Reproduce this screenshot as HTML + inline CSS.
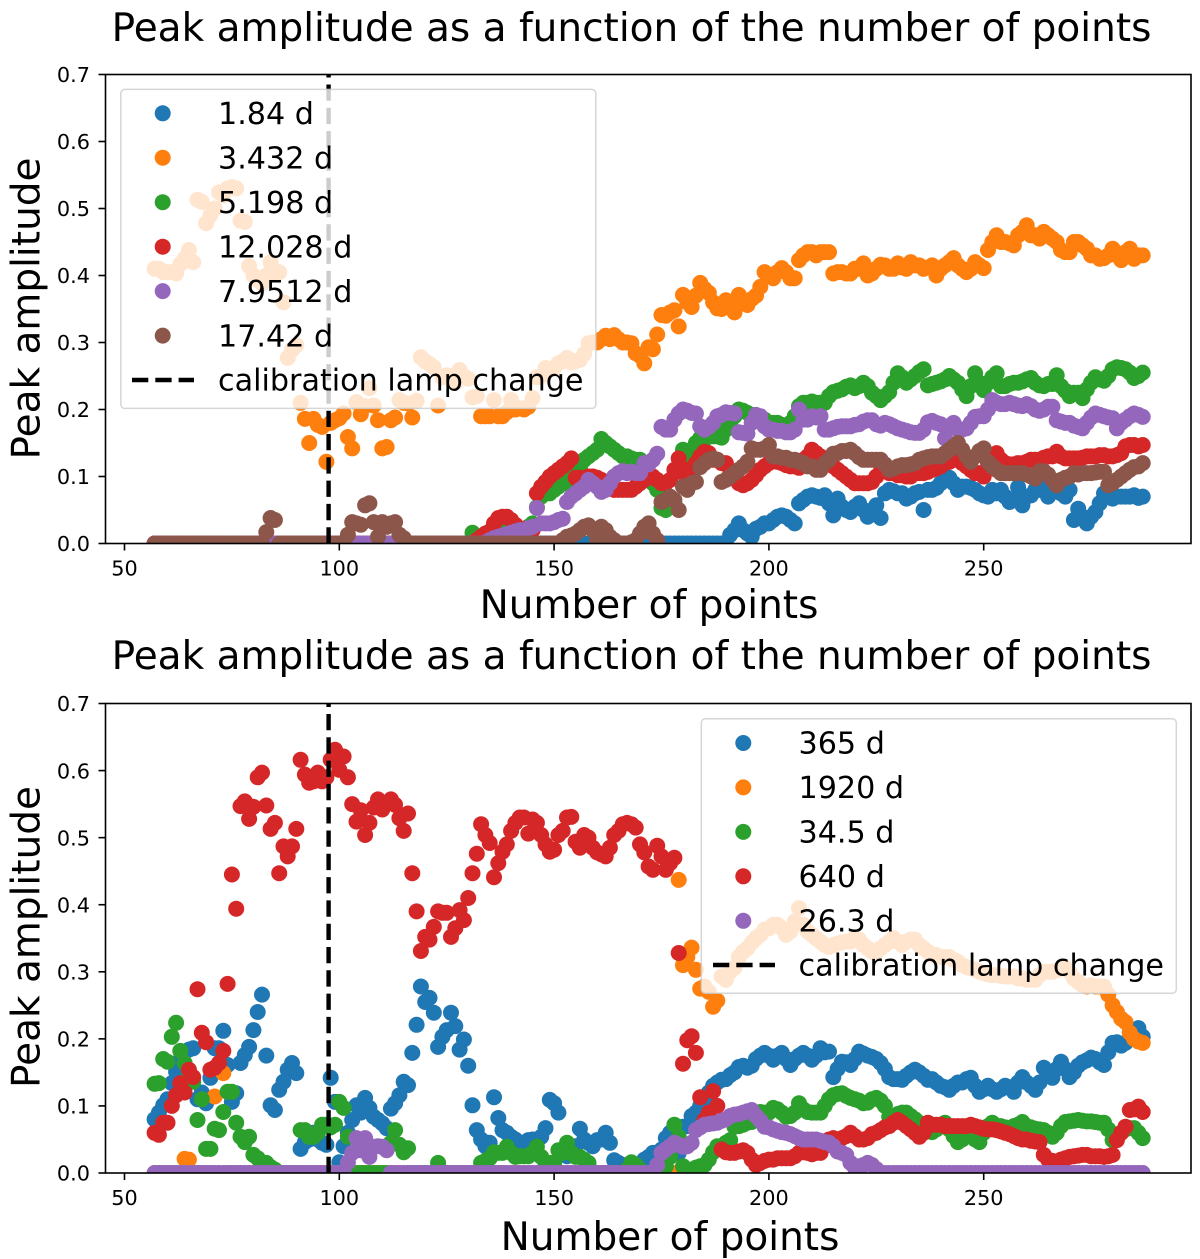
<!DOCTYPE html>
<html lang="en">
<head>
<meta charset="utf-8">
<title>Peak amplitude as a function of the number of points</title>
<style>
html,body{margin:0;padding:0;background:#fff;}
svg{display:block;font-family:"DejaVu Sans","Liberation Sans",sans-serif;fill:#000;}
</style>
</head>
<body>
<svg id="figure" xmlns="http://www.w3.org/2000/svg" width="1200" height="1259" viewBox="0 0 1200 1259">
  <defs>
    <clipPath id="clip-top"><rect x="105.5" y="74.5" width="1085.5" height="469"/></clipPath>
    <clipPath id="clip-bottom"><rect x="105.5" y="703.5" width="1085.5" height="469.5"/></clipPath>
  </defs>

  <g id="chart-top">
    <text x="631.5" y="41" font-size="39" text-anchor="middle">Peak amplitude as a function of the number of points</text>
    <g id="marks-top" clip-path="url(#clip-top)"></g>
    <line x1="328.6" y1="543.5" x2="328.6" y2="74.5" stroke="#000" stroke-width="4.4" stroke-dasharray="16.3 7"/>
    <g>
      <rect x="120.8" y="89.4" width="475" height="319" rx="4" fill="#fff" fill-opacity="0.8" stroke="#ccc" stroke-opacity="0.8" stroke-width="1.5"/>
      <g font-size="30.2">
        <g><circle cx="162.7" cy="113.3" r="8" fill="#1f77b4"/><text x="218" y="124">1.84 d</text></g>
        <g><circle cx="162.7" cy="157.7" r="8" fill="#ff7f0e"/><text x="218" y="168.4">3.432 d</text></g>
        <g><circle cx="162.7" cy="202.2" r="8" fill="#2ca02c"/><text x="218" y="212.9">5.198 d</text></g>
        <g><circle cx="162.7" cy="246.7" r="8" fill="#d62728"/><text x="218" y="257.4">12.028 d</text></g>
        <g><circle cx="162.7" cy="291.1" r="8" fill="#9467bd"/><text x="218" y="301.8">7.9512 d</text></g>
        <g><circle cx="162.7" cy="335.6" r="8" fill="#8c564b"/><text x="218" y="346.3">17.42 d</text></g>
        <g><line x1="132" y1="380" x2="194" y2="380" stroke="#000" stroke-width="4.4" stroke-dasharray="16.3 7"/><text x="218" y="390.7">calibration lamp change</text></g>
      </g>
    </g>
    <g id="ticks-top"></g>
    <rect x="105.5" y="74.5" width="1085.5" height="469" fill="none" stroke="#000" stroke-width="1.6"/>
    <text x="649" y="618" font-size="39" text-anchor="middle">Number of points</text>
    <text transform="translate(39.5 308.5) rotate(-90)" font-size="39" text-anchor="middle">Peak amplitude</text>
  </g>

  <g id="chart-bottom">
    <text x="631.5" y="669" font-size="39" text-anchor="middle">Peak amplitude as a function of the number of points</text>
    <g id="marks-bottom" clip-path="url(#clip-bottom)"></g>
    <line x1="328.6" y1="1173" x2="328.6" y2="703.5" stroke="#000" stroke-width="4.4" stroke-dasharray="16.3 7"/>
    <g>
      <rect x="701.3" y="718.8" width="475" height="274.5" rx="4" fill="#fff" fill-opacity="0.8" stroke="#ccc" stroke-opacity="0.8" stroke-width="1.5"/>
      <g font-size="30.2">
        <g><circle cx="743.3" cy="743" r="8" fill="#1f77b4"/><text x="798.5" y="753.7">365 d</text></g>
        <g><circle cx="743.3" cy="787.4" r="8" fill="#ff7f0e"/><text x="798.5" y="798.1">1920 d</text></g>
        <g><circle cx="743.3" cy="831.9" r="8" fill="#2ca02c"/><text x="798.5" y="842.6">34.5 d</text></g>
        <g><circle cx="743.3" cy="876.3" r="8" fill="#d62728"/><text x="798.5" y="887">640 d</text></g>
        <g><circle cx="743.3" cy="920.8" r="8" fill="#9467bd"/><text x="798.5" y="931.5">26.3 d</text></g>
        <g><line x1="713" y1="965" x2="775" y2="965" stroke="#000" stroke-width="4.4" stroke-dasharray="16.3 7"/><text x="798.5" y="975.7">calibration lamp change</text></g>
      </g>
    </g>
    <g id="ticks-bottom"></g>
    <rect x="105.5" y="703.5" width="1085.5" height="469.5" fill="none" stroke="#000" stroke-width="1.6"/>
    <text x="670" y="1250" font-size="39" text-anchor="middle">Number of points</text>
    <text transform="translate(39.5 937) rotate(-90)" font-size="39" text-anchor="middle">Peak amplitude</text>
  </g>
</svg>

<script>
// Every series is read per point count; index 0 = 57 points, last index = 287 points.
const firstPointCount = 57;
const xTickValues = [50,100,150,200,250];
const yTickValues = [0,0.1,0.2,0.3,0.4,0.5,0.6,0.7];

// ---------- top chart ----------
const top_1_84 = [0,0,0,
0,0,0,0,0,0,0,0,0,0,
0,0,0,0,0,0,0,0,0,0,
0,0,0,0,0,0,0,0,0,0,
0,0,0,0,0,0,0,0,0,0,
0,0,0,0,0,0,0,0,0,0,
0,0,0,0,0,0,0,0,0,0,
0,0,0,0,0,0,0,0,0,0,
0,0,0,0,0,0,0,0,0,0,
0,0,0,0,0,0,0,0,0,0,
0,0,0,0,0,0,0,0,0,0,
0,0,0,0,0,0,0,0,0,0,
0,0,0,0,0,0,0,0,0,0,
0,0,0,0,0,0,0,0,0,0,
0,.013,.02,.03,.02,.015,.01,.022,.025,.03,
.03,.035,.04,.042,.04,.035,.03,.06,.065,.07,
.072,.07,.068,.072,.06,.042,.067,.055,.05,.047,
.055,.06,.05,.04,.05,.057,.038,.075,.08,.078,
.075,.075,.067,.07,.075,.077,.05,.08,.08,.083,
.09,.095,.098,.09,.08,.085,.085,.083,.08,.075,
.072,.07,.08,.075,.08,.07,.062,.065,.084,.057,
.07,.072,.08,.08,.087,.07,.08,.083,.075,.07,
.08,.035,.052,.04,.03,.04,.047,.06,.075,.072,
.067,.07,.07,.07,.07,.072,.068,.07];

const top_3_432 = [.41,.41,.405,
.405,.405,.403,.417,.425,.438,.42,.513,.51,.478,
.49,.50,.524,.52,.53,.532,.53,.482,.48,.414,
.40,.393,.388,.40,.42,.403,.405,.36,.277,.289,
.296,.21,.186,.15,.186,.177,.174,.122,.18,.184,
.187,.194,.159,.142,.211,.193,.205,.232,.206,.184,
.142,.144,.184,.188,.214,.21,.209,.188,.213,.278,
.272,.268,.263,.206,.248,.251,.25,.24,.259,.25,
.246,.218,.22,.19,.19,.19,.214,.19,.19,.196,
.214,.20,.202,.20,.204,.217,.248,.25,.262,.26,
.262,.269,.272,.277,.27,.272,.274,.283,.299,.30,
.30,.305,.31,.305,.311,.305,.30,.30,.299,.284,
.28,.269,.293,.29,.312,.341,.34,.345,.348,.324,
.371,.36,.353,.37,.389,.38,.374,.36,.351,.35,
.363,.36,.345,.371,.36,.356,.365,.37,.383,.405,
.40,.396,.405,.411,.405,.396,.396,.423,.43,.435,
.435,.43,.435,.435,.435,.403,.405,.405,.403,.403,
.41,.41,.418,.40,.403,.41,.416,.415,.41,.41,
.418,.412,.41,.42,.415,.415,.41,.412,.415,.40,
.41,.415,.42,.426,.415,.41,.405,.41,.42,.415,
.411,.438,.45,.46,.45,.45,.448,.445,.46,.465,
.475,.46,.46,.455,.465,.46,.455,.45,.438,.435,
.435,.45,.45,.445,.44,.43,.43,.425,.426,.43,
.44,.43,.423,.435,.44,.425,.43,.43];

const top_5_198 = [0,0,0,
0,0,0,0,0,0,0,0,0,0,
0,0,0,0,0,0,0,0,0,0,
0,0,0,0,0,0,0,0,0,0,
0,0,0,0,0,0,0,0,0,0,
0,0,0,0,0,0,0,0,0,0,
0,0,0,0,0,0,0,0,0,0,
0,0,0,0,0,0,0,0,0,0,
0,.016,0,0,0,.01,.01,.015,.02,.018,
.015,.01,.02,.02,.025,.03,.054,.07,.075,.075,
.08,.085,.09,.09,.10,.11,.114,.125,.13,.135,
.14,.156,.15,.145,.14,.135,.13,.13,.127,.125,
.125,.12,.10,.09,.08,.053,.05,.055,.06,.115,
.14,.13,.14,.15,.157,.155,.16,.16,.16,.158,
.17,.18,.19,.2,.198,.195,.192,.19,.187,.185,
.18,.18,.18,.177,.175,.18,.19,.205,.21,.21,
.212,.21,.21,.21,.22,.226,.228,.23,.234,.236,
.232,.235,.24,.235,.225,.22,.214,.22,.226,.24,
.254,.248,.24,.245,.25,.256,.26,.236,.238,.24,
.242,.245,.25,.245,.24,.23,.22,.235,.254,.24,
.229,.24,.248,.254,.235,.235,.238,.24,.24,.242,
.245,.247,.24,.236,.235,.238,.238,.251,.235,.228,
.22,.225,.225,.217,.23,.24,.248,.245,.243,.25,
.26,.263,.262,.26,.255,.247,.25,.255];

const top_12_028 = [0,0,0,
0,0,0,0,0,0,0,0,0,0,
0,0,0,0,0,0,0,0,0,0,
0,0,0,0,0,0,0,0,0,0,
0,0,0,0,0,0,0,0,0,0,
0,0,0,0,0,0,0,0,0,0,
0,0,0,0,0,0,0,0,0,0,
0,0,0,0,0,0,0,0,0,0,
0,0,.005,.01,.015,.018,.03,.038,.04,.04,
.035,.028,.02,.022,.02,.02,.075,.085,.092,.10,
.105,.11,.115,.12,.127,.098,.098,.097,.10,.10,
.098,.095,.09,.085,.08,.08,.08,.08,.08,.085,
.09,.095,.105,.10,.095,.09,.09,.095,.11,.127,
.105,.11,.11,.12,.13,.137,.135,.125,.125,.12,
.12,.105,.10,.09,.087,.09,.095,.102,.11,.115,
.12,.125,.122,.12,.117,.115,.115,.113,.125,.13,
.14,.135,.13,.125,.12,.115,.11,.105,.10,.095,
.09,.09,.09,.09,.092,.10,.107,.11,.105,.105,
.102,.102,.10,.10,.105,.105,.105,.107,.11,.112,
.115,.12,.122,.125,.125,.12,.115,.11,.105,.105,
.10,.12,.125,.135,.125,.12,.118,.118,.12,.12,
.122,.125,.125,.125,.128,.13,.13,.137,.13,.127,
.127,.127,.127,.128,.13,.13,.13,.132,.132,.13,
.13,.132,.135,.145,.147,.147,.145,.147];

const top_7_9512 = [0,0,0,
0,0,0,0,0,0,0,0,0,0,
0,0,0,0,0,0,0,0,0,0,
0,0,0,0,0,0,0,0,0,0,
0,0,0,0,0,0,0,0,0,0,
0,0,0,0,0,0,0,0,0,0,
0,0,0,0,0,0,0,0,0,0,
0,0,0,0,0,0,0,0,0,0,
0,0,0,0,.002,.005,.008,.01,.012,.014,
.016,.018,.02,.02,.023,.025,.053,.03,.03,.03,
.032,.035,.037,.062,.07,.075,.08,.085,.095,.09,
.085,.077,.08,.09,.1,.105,.108,.105,.107,.105,
.105,.12,.118,.125,.134,.174,.17,.17,.185,.194,
.20,.198,.195,.194,.175,.17,.174,.18,.19,.192,
.196,.195,.194,.166,.165,.164,.18,.192,.19,.175,
.17,.17,.168,.168,.166,.166,.17,.2,.185,.185,
.19,.188,.19,.17,.17,.172,.174,.175,.175,.175,
.177,.178,.182,.184,.184,.178,.176,.18,.178,.175,
.172,.17,.168,.166,.165,.165,.17,.181,.183,.18,
.178,.157,.175,.18,.17,.17,.172,.18,.189,.19,
.19,.2,.214,.21,.208,.208,.21,.208,.206,.205,
.208,.205,.20,.198,.2,.204,.204,.184,.182,.18,
.18,.176,.174,.172,.18,.188,.194,.192,.19,.188,
.187,.172,.18,.185,.19,.194,.192,.189];

const top_17_42 = [0,0,0,
0,0,0,0,0,0,0,0,0,0,
0,0,0,0,0,0,0,0,0,0,
0,0,0,.017,.038,.035,0,0,0,0,
0,0,0,0,0,0,0,0,0,0,
0,0,.013,.032,.03,.028,.057,.06,.032,.01,
.032,.025,.03,.032,.013,.008,0,0,0,0,
0,0,0,0,0,0,0,0,0,0,
0,0,0,0,0,0,0,0,0,0,
0,0,0,0,0,0,0,0,0,0,
0,0,.005,.01,.012,.015,.02,.025,.027,.02,
.005,.025,.02,.01,.005,0,0,0,.002,.005,
.015,.025,.03,.015,.005,.062,.065,.07,.065,.05,
.085,.08,.09,.092,.114,.12,.125,.127,.125,.092,
.095,.10,.105,.11,.115,.122,.142,.14,.14,.142,
.147,.13,.13,.128,.128,.125,.125,.122,.12,.115,
.115,.11,.11,.12,.125,.134,.135,.138,.138,.14,
.135,.129,.125,.125,.125,.125,.125,.118,.11,.112,
.115,.117,.117,.118,.12,.125,.127,.129,.13,.13,
.13,.135,.14,.145,.15,.14,.13,.122,.13,.138,
.142,.122,.115,.11,.105,.105,.105,.105,.105,.105,
.103,.1,.097,.108,.108,.103,.095,.087,.095,.098,
.1,.105,.103,.105,.105,.105,.106,.107,.107,.087,
.09,.095,.10,.105,.11,.114,.115,.12];

// ---------- bottom chart ----------
const bottom_365 = [.08,.09,.101,
.11,.134,.151,.169,.18,.184,.186,.11,.12,.104,
.142,.186,.186,.212,.161,.106,.119,.164,.176,.188,
.213,.24,.266,.175,.101,.094,.124,.136,.154,.164,
.149,.036,.046,.05,.06,.05,.045,.042,.142,.106,
.016,.04,.06,.079,.101,.09,.112,.097,.084,.079,
.074,.067,.096,.104,.116,.136,.131,.179,.221,.278,
.255,.261,.239,.188,.203,.213,.239,.219,.184,.199,
.16,.101,.064,.05,.04,.045,.113,.082,.064,.06,
.054,.05,.045,.04,.049,.05,.05,.054,.067,.109,
.104,.09,.03,.025,.03,.04,.066,.05,.045,.04,
.049,.05,.06,.045,.019,.015,.012,.01,.01,.005,
.01,.02,.024,.03,.03,.035,.052,.06,.05,.03,
.069,.07,.085,.09,.10,.11,.12,.13,.135,.139,
.14,.146,.15,.158,.16,.157,.16,.17,.175,.179,
.175,.169,.175,.179,.17,.161,.17,.175,.179,.175,
.169,.175,.186,.18,.181,.143,.155,.166,.165,.161,
.17,.181,.178,.175,.173,.17,.164,.155,.143,.14,
.14,.139,.145,.15,.154,.15,.145,.139,.14,.135,
.13,.128,.124,.13,.135,.135,.14,.142,.13,.121,
.125,.13,.125,.121,.125,.13,.128,.121,.135,.143,
.135,.13,.124,.135,.157,.15,.142,.155,.166,.155,
.143,.15,.16,.165,.168,.172,.17,.165,.161,.18,
.194,.195,.19,.194,.21,.212,.216,.203];

const bottom_1920 = [0,0,0,
0,0,0,0,.021,.02,0,0,0,0,
0,.114,0,.149,0,0,0,0,0,0,
0,0,0,0,0,0,0,0,0,0,
0,0,0,0,0,0,0,0,0,0,
0,0,0,0,0,0,0,0,0,0,
0,0,0,0,0,0,0,0,0,0,
0,0,0,0,0,0,0,0,0,0,
0,0,0,0,0,0,0,0,0,0,
0,0,0,0,0,0,0,0,0,0,
0,0,0,0,0,0,0,0,0,0,
0,0,0,0,0,0,0,0,0,0,
0,0,0,0,0,0,0,0,0,.437,
.31,.322,.336,.303,.275,.278,.27,.248,.257,.293,
.288,.3,.306,.322,.33,.335,.343,.35,.355,.363,
.365,.37,.37,.365,.355,.36,.375,.395,.37,.36,
.355,.35,.345,.34,.337,.34,.342,.344,.345,.345,
.35,.348,.34,.335,.33,.33,.335,.34,.345,.35,
.345,.34,.345,.348,.348,.34,.335,.33,.325,.325,
.322,.322,.322,.318,.315,.31,.307,.305,.303,.30,
.298,.296,.295,.295,.294,.293,.293,.293,.29,.29,
.288,.288,.288,.295,.30,.3,.3,.302,.305,.306,
.30,.29,.285,.28,.278,.28,.278,.278,.278,.266,
.25,.24,.23,.225,.209,.2,.196,.194];

const bottom_34_5 = [.133,.134,.17,
.166,.203,.224,.182,.164,.15,.136,.079,.11,.036,
.036,.066,.064,.091,.121,.121,.075,.054,.046,.054,
.027,.022,.016,.015,.009,.005,0,0,0,0,
0,.064,.064,.054,.054,.06,.072,.072,.068,.072,
.106,.097,.054,0,0,0,0,0,0,0,
0,0,.045,.064,.042,.031,.037,0,0,0,
0,0,0,.015,0,0,0,0,0,0,
0,0,0,.015,.018,.022,.031,.03,.03,.039,
.03,.024,.025,.025,.025,.03,.039,.024,.015,.015,
.015,.034,.03,.045,.03,.024,.024,.02,.015,0,
0,0,0,0,0,0,0,.005,.016,.012,
.005,0,0,0,0,0,.01,.024,.072,.054,
.01,.005,.005,.008,.01,.012,.02,.031,.04,.04,
.045,.049,.069,.07,.072,.075,.076,.08,.091,.09,
.09,.097,.095,.09,.084,.085,.09,.104,.095,.091,
.09,.09,.09,.1,.11,.116,.118,.119,.115,.112,
.11,.108,.104,.105,.11,.112,.108,.1,.084,.085,
.088,.09,.09,.085,.08,.075,.07,.065,.061,.065,
.07,.075,.065,.055,.046,.05,.055,.055,.05,.046,
.06,.07,.075,.07,.07,.068,.066,.07,.072,.076,
.07,.068,.066,.065,.064,.06,.054,.06,.07,.076,
.077,.078,.079,.078,.077,.077,.076,.075,.075,.065,
.049,.05,.06,.065,.067,.067,.06,.052];

const bottom_640 = [.06,.057,.075,
.075,.10,.116,.134,.12,.154,.143,.274,.209,.195,
.154,.157,.164,.182,.282,.445,.394,.547,.554,.528,
.546,.59,.597,.548,.513,.522,.447,.487,.472,.487,
.513,.616,.594,.582,.584,.597,.584,.59,.616,.631,
.601,.621,.59,.55,.524,.541,.504,.522,.545,.557,
.542,.552,.557,.549,.529,.51,.536,.447,.39,.331,
.352,.348,.367,.39,.388,.388,.352,.365,.392,.377,
.41,.447,.476,.52,.504,.492,.441,.462,.479,.49,
.51,.522,.53,.53,.506,.527,.522,.504,.49,.479,
.482,.504,.51,.53,.531,.494,.485,.504,.50,.485,
.478,.475,.472,.485,.504,.51,.52,.522,.52,.515,
.49,.478,.457,.452,.488,.472,.452,.462,.47,.328,
.163,.198,.204,.179,.113,.079,.09,.122,.10,.035,
.031,.03,.03,.032,.034,.03,.02,.012,.015,.018,
.02,.02,.022,.022,.022,.022,.025,.03,.031,.03,
.028,.03,.03,.04,.05,.052,.05,.052,.055,.06,
.055,.05,.05,.052,.058,.06,.064,.068,.07,.075,
.079,.075,.07,.065,.06,.054,.06,.075,.072,.072,
.072,.07,.07,.07,.07,.07,.07,.072,.07,.068,
.066,.065,.065,.064,.062,.06,.058,.055,.052,.05,
.05,.048,.047,.046,.027,.02,.018,.016,.02,.022,
.024,.025,.026,.027,.027,.025,.025,.025,.024,.025,
.027,.049,.06,.069,.094,.095,.099,.091];

const bottom_26_3 = [0,0,0,
0,0,0,0,0,0,0,0,0,0,
0,0,0,0,0,0,0,0,0,0,
0,0,0,0,0,0,0,0,0,0,
0,0,0,0,0,0,0,0,0,0,
0,0,.016,.03,.052,.034,.052,.024,.039,.04,
.039,.034,0,0,0,0,0,0,0,0,
0,0,0,0,0,0,0,0,0,0,
0,0,0,0,0,0,0,0,0,0,
0,0,0,0,0,0,0,0,0,0,
0,0,0,0,0,0,0,0,0,0,
0,0,0,0,0,0,0,0,0,0,
0,0,0,0,.012,.03,.035,.04,.045,.042,
.039,.04,.045,.064,.068,.072,.073,.074,.075,.078,
.08,.085,.087,.088,.09,.092,.094,.085,.078,.069,
.068,.065,.063,.061,.06,.058,.055,.052,.05,.05,
.05,.05,.048,.046,.045,.04,.032,.03,.027,.015,
.008,.01,.012,.015,.012,.006,0,0,0,0,
0,0,0,0,0,0,0,0,0,0,
0,0,0,0,0,0,0,0,0,0,
0,0,0,0,0,0,0,0,0,0,
0,0,0,0,0,0,0,0,0,0,
0,0,0,0,0,0,0,0,0,0,
0,0,0,0,0,0,0,0];

const topSeriesList = [
  ['1-84-d', '#1f77b4', top_1_84],
  ['3-432-d', '#ff7f0e', top_3_432],
  ['5-198-d', '#2ca02c', top_5_198],
  ['12-028-d', '#d62728', top_12_028],
  ['7-9512-d', '#9467bd', top_7_9512],
  ['17-42-d', '#8c564b', top_17_42]
];
const bottomSeriesList = [
  ['365-d', '#1f77b4', bottom_365],
  ['1920-d', '#ff7f0e', bottom_1920],
  ['34-5-d', '#2ca02c', bottom_34_5],
  ['640-d', '#d62728', bottom_640],
  ['26-3-d', '#9467bd', bottom_26_3]
];

const SVG_NS = 'http://www.w3.org/2000/svg';
function xScale(n){ return 124.5 + (n - 50) * 4.296; }
function yScaleTop(v){ return 543.5 - v * 670; }
function yScaleBottom(v){ return 1173 - v * 670.7; }

function drawSeries(container, list, yScale){
  list.forEach(function(entry){
    const group = document.createElementNS(SVG_NS, 'g');
    
    
    group.setAttribute('fill', entry[1]);
    entry[2].forEach(function(value, i){
      const dot = document.createElementNS(SVG_NS, 'circle');
      
      
      dot.setAttribute('cx', xScale(firstPointCount + i).toFixed(1));
      dot.setAttribute('cy', yScale(value).toFixed(1));
      dot.setAttribute('r', '8');
      group.appendChild(dot);
    });
    container.appendChild(group);
  });
}

function drawTicks(container, yScale, axisBottom){
  xTickValues.forEach(function(t){
    const mark = document.createElementNS(SVG_NS, 'line');
    
    
    mark.setAttribute('x1', xScale(t));
    mark.setAttribute('x2', xScale(t));
    mark.setAttribute('y1', axisBottom);
    mark.setAttribute('y2', axisBottom + 7);
    mark.setAttribute('stroke', '#000');
    mark.setAttribute('stroke-width', '1.6');
    container.appendChild(mark);
    const label = document.createElementNS(SVG_NS, 'text');
    
    
    label.setAttribute('x', xScale(t));
    label.setAttribute('y', axisBottom + 32);
    label.setAttribute('font-size', '20.8');
    label.setAttribute('text-anchor', 'middle');
    label.textContent = String(t);
    container.appendChild(label);
  });
  yTickValues.forEach(function(t){
    const mark = document.createElementNS(SVG_NS, 'line');
    
    
    mark.setAttribute('x1', 98.5);
    mark.setAttribute('x2', 105.5);
    mark.setAttribute('y1', yScale(t));
    mark.setAttribute('y2', yScale(t));
    mark.setAttribute('stroke', '#000');
    mark.setAttribute('stroke-width', '1.6');
    container.appendChild(mark);
    const label = document.createElementNS(SVG_NS, 'text');
    
    
    label.setAttribute('x', 90);
    label.setAttribute('y', yScale(t) + 7.7);
    label.setAttribute('font-size', '20.8');
    label.setAttribute('text-anchor', 'end');
    label.textContent = t.toFixed(1);
    container.appendChild(label);
  });
}

drawSeries(document.getElementById('marks-top'), topSeriesList, yScaleTop);
drawSeries(document.getElementById('marks-bottom'), bottomSeriesList, yScaleBottom);
drawTicks(document.getElementById('ticks-top'), yScaleTop, 543.5);
drawTicks(document.getElementById('ticks-bottom'), yScaleBottom, 1173);
</script>
</body>
</html>
